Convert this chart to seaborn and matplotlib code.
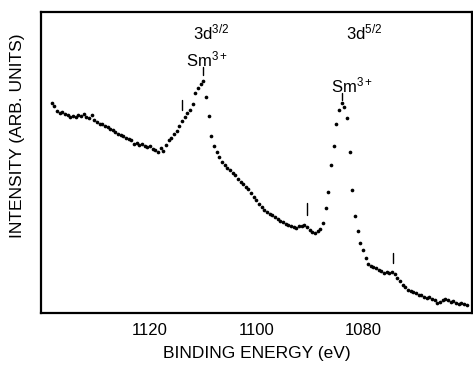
import matplotlib
matplotlib.use("Agg")
import matplotlib.pyplot as plt
from matplotlib import font_manager
import seaborn as sns
import pandas as pd

# Binding energies (eV) of the measured points
energy = [
    1138.5, 1138.0, 1137.5, 1137.0, 1136.5, 1136.0, 1135.5, 1135.0, 1134.5, 1134.0,
    1133.5, 1133.0, 1132.5, 1132.0, 1131.5, 1131.0, 1130.5, 1130.0, 1129.5, 1129.0,
    1128.5, 1128.0, 1127.5, 1127.0, 1126.5, 1126.0, 1125.5, 1125.0, 1124.5, 1124.0,
    1123.5, 1123.0, 1122.5, 1122.0, 1121.5, 1121.0, 1120.5, 1120.0, 1119.5, 1119.0,
    1118.5, 1118.0, 1117.5, 1117.0, 1116.5, 1116.0, 1115.5, 1115.0, 1114.5, 1114.0,
    1113.5, 1113.0, 1112.5, 1112.0, 1111.5, 1111.0, 1110.5, 1110.0, 1109.5, 1109.0,
    1108.5, 1108.0, 1107.5, 1107.0, 1106.5, 1106.0, 1105.5, 1105.0, 1104.5, 1104.0,
    1103.5, 1103.0, 1102.5, 1102.0, 1101.5, 1101.0, 1100.5, 1100.0, 1099.5, 1099.0,
    1098.5, 1098.0, 1097.5, 1097.0, 1096.5, 1096.0, 1095.5, 1095.0, 1094.5, 1094.0,
    1093.5, 1093.0, 1092.5, 1092.0, 1091.5, 1091.0, 1090.5, 1090.0, 1089.5, 1089.0,
    1088.5, 1088.0, 1087.5, 1087.0, 1086.5, 1086.0, 1085.5, 1085.0, 1084.5, 1084.0,
    1083.5, 1083.0, 1082.5, 1082.0, 1081.5, 1081.0, 1080.5, 1080.0, 1079.5, 1079.0,
    1078.5, 1078.0, 1077.5, 1077.0, 1076.5, 1076.0, 1075.5, 1075.0, 1074.5, 1074.0,
    1073.5, 1073.0, 1072.5, 1072.0, 1071.5, 1071.0, 1070.5, 1070.0, 1069.5, 1069.0,
    1068.5, 1068.0, 1067.5, 1067.0, 1066.5, 1066.0, 1065.5, 1065.0, 1064.5, 1064.0,
    1063.5, 1063.0, 1062.5, 1062.0, 1061.5, 1061.0, 1060.5,
]

# Intensity (arbitrary units)
intensity = [
    210, 207, 202, 200, 201, 199, 198, 196, 197, 196,
    198, 197, 199, 196, 195, 198, 193, 191, 189, 189,
    187, 186, 184, 183, 181, 179, 178, 177, 175, 174,
    173, 169, 170, 168, 169, 167, 166, 167, 164, 163,
    161, 165, 162, 168, 173, 175, 179, 182, 187, 192,
    196, 200, 203, 209, 220, 225, 229, 232, 216, 197,
    177, 167, 161, 156, 151, 148, 145, 143, 140, 138,
    134, 131, 129, 126, 124, 120, 116, 113, 109, 106,
    103, 101, 99, 98, 96, 94, 92, 91, 89, 88,
    87, 86, 85, 87, 87, 88, 86, 83, 81, 80,
    82, 84, 90, 105, 121, 148, 167, 189, 203, 210,
    206, 195, 161, 123, 97, 82, 70, 63, 55, 49,
    47, 46, 45, 43, 42, 40, 41, 40, 41, 39,
    35, 32, 28, 26, 23, 22, 21, 20, 18, 18,
    16, 15, 16, 14, 13, 10, 11, 13, 14, 13,
    11, 12, 10, 9, 10, 9, 8,
]

x_ticks = [1120, 1100, 1080]
x_tick_labels = ["1120", "1100", "1080"]

df = pd.DataFrame({"energy": energy, "intensity": intensity})

sns.set_style("white")
plt.rcParams["font.family"] = ["Liberation Sans", "DejaVu Sans"]
plt.rcParams["mathtext.default"] = "regular"
plt.rcParams["text.color"] = "black"
plt.rcParams["axes.labelcolor"] = "black"
plt.rcParams["xtick.color"] = "black"
plt.rcParams["ytick.color"] = "black"

# Narrow face for the tick numbers if available
try:
    font_manager.findfont("Liberation Sans Narrow", fallback_to_default=False)
    tick_family, tick_size = ["Liberation Sans Narrow"], 13
except Exception:
    tick_family, tick_size = ["Liberation Sans"], 12

fig = plt.figure(figsize=(4.73, 3.65), dpi=100)
ax = fig.add_axes([0.0867, 0.142, 0.911, 0.825])

sns.scatterplot(data=df, x="energy", y="intensity", ax=ax, color="black",
                s=7, linewidth=0, marker="o", legend=False)

ax.set_xlim(1140.5, 1059.5)
ax.set_ylim(0, 301)

ax.set_xticks(x_ticks)
ax.set_xticklabels(x_tick_labels, fontsize=tick_size, family=tick_family,
                   color="black")
ax.set_yticks([])
ax.tick_params(axis="x", direction="in", length=5, width=1.2, pad=7,
               colors="black")

for sp in ax.spines.values():
    sp.set_linewidth(1.6)
    sp.set_color("black")
    sp.set_visible(True)

ax.set_xlabel("BINDING ENERGY (eV)", fontsize=12.5, labelpad=6, color="black")
ax.set_ylabel("INTENSITY (ARB. UNITS)", fontsize=12.5, color="black")
ax.yaxis.set_label_coords(-0.037, 0.59)

# Feature markers (short vertical strokes)
marks = [(1114.0, 203, 213), (1090.5, 98, 110), (1074.4, 50, 60),
         (1110.1, 238, 246), (1084.0, 213, 220)]
for xm, y0, y1 in marks:
    ax.plot([xm, xm], [y0, y1], color="black", lw=1.0)

ax.text(1108.5, 281, r"3d$^{3/2}$", ha="center", va="center", fontsize=12,
        color="black")
ax.text(1109.3, 254, r"Sm$^{3+}$", ha="center", va="center", fontsize=12,
        color="black")
ax.text(1079.8, 281, r"3d$^{5/2}$", ha="center", va="center", fontsize=12,
        color="black")
ax.text(1082.0, 228, r"Sm$^{3+}$", ha="center", va="center", fontsize=12,
        color="black")

fig.savefig("out.png", dpi=100)
